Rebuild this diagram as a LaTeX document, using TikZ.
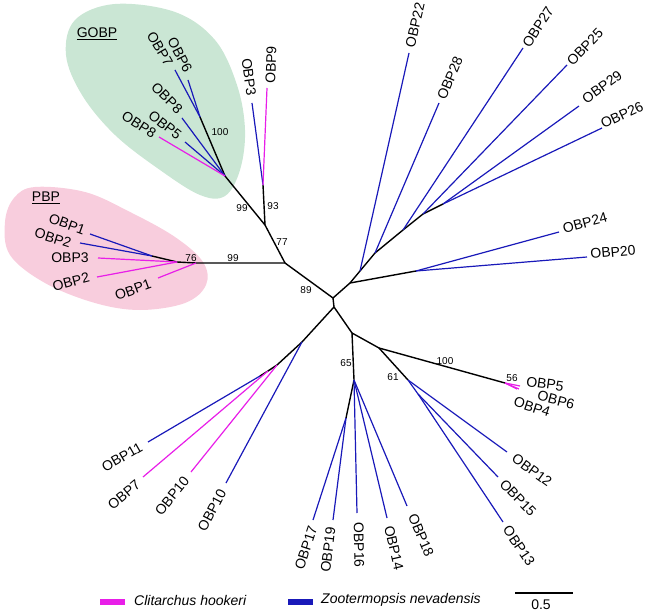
\documentclass[tikz,border=0pt]{standalone}
\usepackage{fontspec}
\setmainfont{Liberation Sans}
\definecolor{zoo}{RGB}{25,25,185}
\definecolor{cli}{RGB}{232,30,232}
\definecolor{gobpbg}{RGB}{202,230,212}
\definecolor{pbpbg}{RGB}{248,205,221}

\begin{document}
\begin{tikzpicture}[x=1pt,y=-1pt,
  br/.style={line width=1.4pt,black},
  zn/.style={line width=1.2pt,zoo},
  ch/.style={line width=1.2pt,cli},
  lab/.style={font=\fontsize{14}{14}\selectfont,inner sep=0pt},
  bs/.style={font=\fontsize{10}{10}\selectfont,inner sep=0pt}]
\useasboundingbox (0,0) rectangle (653,612);
% clade backgrounds
\fill[gobpbg] plot[smooth cycle,tension=0.6] coordinates {(115,4) (175,12) (215,40) (237,85) (245,130) (240,170) (225,196) (200,195) (160,170) (115,135) (82,95) (66,55) (75,20)};
\fill[pbpbg] plot[smooth cycle,tension=0.6] coordinates {(35,187) (85,192) (130,212) (175,237) (203,262) (206,285) (185,303) (140,310) (95,303) (45,283) (10,255) (5,222) (14,198)};
\node[lab] (gobp) at (97,34) {\underline{GOBP}};
\node[lab] (pbp) at (46,198) {\underline{PBP}};
% internal nodes
\coordinate (c0) at (333,298);  \coordinate (c1) at (334,307);
\coordinate (n89) at (285,263); \coordinate (n77) at (265,225);
\coordinate (n93) at (263,185); \coordinate (ng) at (225,176);
\coordinate (n100) at (200,117);
\coordinate (np) at (196,263);  \coordinate (np2) at (177,262);
\coordinate (np3) at (152,256);
\coordinate (r1) at (350,283);  \coordinate (r2) at (416,271);
\coordinate (r3) at (360,271);  \coordinate (r4) at (375,253);
\coordinate (r5) at (403,230);  \coordinate (r6) at (423,214);
\coordinate (r7) at (443,204);
\coordinate (l1) at (302,342);  \coordinate (l2) at (277,365);
\coordinate (l3) at (268,371);  \coordinate (l4) at (260,376);
\coordinate (c2) at (352,333);  \coordinate (n65) at (354,380);
\coordinate (n1719) at (346,418);
\coordinate (n61) at (379,348); \coordinate (n56) at (505,383);
\coordinate (n61b) at (408,380); \coordinate (n61c) at (418,394);
% backbone
\draw[br] (np3) -- (np2) -- (np) -- (n89) -- (c0) -- (c1) -- (c2) -- (n65) -- (n1719);
\draw[br] (n89) -- (n77) -- (ng) -- (n100);
\draw[br] (n77) -- (n93);
\draw[br] (c0) -- (r1) -- (r3) -- (r4) -- (r5) -- (r6) -- (r7);
\draw[br] (r1) -- (r2);
\draw[br] (c1) -- (l1) -- (l2) -- (l3) -- (l4);
\draw[br] (c2) -- (n61) -- (n56);
\draw[br] (n61) -- (n61b);
\draw[zn] (n61b) -- (n61c);
% leaves
\foreach \up/\ex/\ey/\sty/\lbl/\lx/\ly/\rot [count=\i] in {
  n100/188/80/zn/OBP6/180/55/-63, n100/175/70/zn/OBP7/160/49/-60,
  ng/182/118/zn/OBP8/167/98/-45, ng/185/142/zn/OBP5/165/125/-38,
  ng/159/137/ch/OBP8/139/125/-33,
  n93/252/103/zn/OBP3/249/77/-82, n93/267/88/ch/OBP9/271/65/88,
  np3/90/234/zn/OBP1/67/224/-20, np3/80/243/zn/OBP2/53/238/-18,
  np2/98/258/ch/OBP3/70/258/0, np2/97/277/ch/OBP2/71/282/15,
  np/158/278/ch/OBP1/133/290/20,
  r3/409/53/zn/OBP22/415/25/77, r4/439/103/zn/OBP28/450/78/67,
  r5/523/48/zn/OBP27/538/27/57, r6/567/65/zn/OBP25/585/47/46,
  r7/579/106/zn/OBP29/602/87/36, r7/602/128/zn/OBP26/622/115/25,
  r2/559/232/zn/OBP24/585/223/15, r2/587/257/zn/OBP20/613/252/5,
  n56/520/386/ch/OBP5/545/384/-8, n56/519/389/ch/OBP6/556/400/-15,
  n56/517/389/ch/OBP4/532/407/-18,
  n61b/507/452/zn/OBP12/532/470/-36, n61c/498/477/zn/OBP15/518/498/-46,
  n61c/503/522/zn/OBP13/519/546/-56,
  n1719/313/520/zn/OBP17/306/548/72, n1719/333/520/zn/OBP19/328/550/83,
  n65/357/513/zn/OBP16/359/545/-89, n65/387/518/zn/OBP14/394/548/-77,
  n65/407/506/zn/OBP18/421/535/-67,
  l1/226/483/zn/OBP10/212/510/62, l2/191/472/ch/OBP10/172/496/51,
  l3/143/477/ch/OBP7/124/495/40, l4/148/442/zn/OBP11/122/457/30}{
  \coordinate (e\i) at (\ex,\ey);
  \draw[\sty] (\up) -- (e\i);
  \node[lab,rotate=\rot] (t\i) at (\lx,\ly) {\lbl};
}
% bootstrap values
\foreach \v/\x/\y [count=\i] in {100/220/132, 99/242/208, 93/273/206, 77/282/242,
  99/233/258, 76/191/258, 89/306/290, 65/346/363, 61/393/377, 100/445/361, 56/512/378}
  \node[bs] (b\i) at (\x,\y) {\v};
% legend and scale
\draw[cli,line width=6pt] (100,602) -- (125,602);
\node[lab,anchor=west] (kc) at (134,600) {\itshape Clitarchus hookeri};
\draw[zoo,line width=6pt] (288,602) -- (313,602);
\node[lab,anchor=west] (kz) at (321,600) {\itshape Zootermopsis nevadensis};
\coordinate (s0) at (515,593); \coordinate (s1) at (573,593);
\draw[br] (s0) -- (s1);
\node[lab] (sl) at (541,605) {0.5};
\end{tikzpicture}
\end{document}
